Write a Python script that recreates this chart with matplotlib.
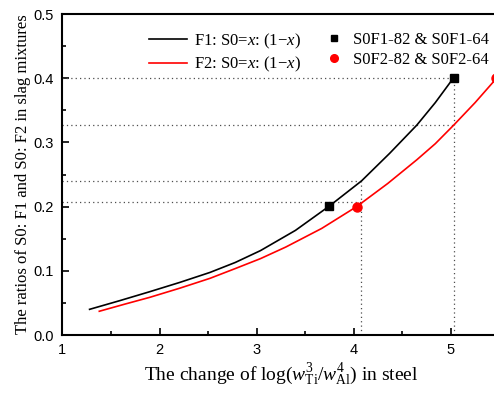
import matplotlib
matplotlib.use('Agg')
import matplotlib.pyplot as plt
from matplotlib.lines import Line2D

plt.rcParams['mathtext.fontset'] = 'custom'
plt.rcParams['mathtext.rm'] = 'Liberation Serif'
plt.rcParams['mathtext.it'] = 'Liberation Serif:italic'

# curve F1 (black)
f1_x = [1.28, 1.59, 1.90, 2.21, 2.52, 2.78, 3.04, 3.40, 3.75, 4.08, 4.37, 4.65, 4.84, 5.03]
f1_y = [0.040, 0.0535, 0.0675, 0.082, 0.0975, 0.113, 0.1315, 0.163, 0.201, 0.240, 0.283, 0.327, 0.362, 0.401]

# curve F2 (red)
f2_x = [1.38, 1.64, 1.90, 2.21, 2.52, 2.78, 3.04, 3.30, 3.67, 4.03, 4.35, 4.65, 4.84, 5.03, 5.25, 5.50]
f2_y = [0.037, 0.048, 0.0587, 0.073, 0.0883, 0.1035, 0.119, 0.137, 0.166, 0.200, 0.236, 0.273, 0.298, 0.327, 0.362, 0.405]

# experimental points
s0f1_x = [3.75, 5.03]
s0f1_y = [0.201, 0.401]
s0f2_x = [4.03, 5.47]
s0f2_y = [0.200, 0.400]

# dotted guide lines
h_guides = [(0.401, 5.03), (0.327, 5.03), (0.240, 4.08), (0.2077, 4.08)]
v_guides = [(4.08, 0.240), (5.03, 0.401)]

fig = plt.figure(figsize=(4.94, 3.94), dpi=100)
ax = fig.add_axes([0.1263, 0.1497, 0.8846, 0.8147])

for yv, xe in h_guides:
    ax.plot([1, xe], [yv, yv], linestyle=(0, (1, 2.5)), color='0.3', linewidth=0.9)
for xv, ye in v_guides:
    ax.plot([xv, xv], [0, ye], linestyle=(0, (1, 2.5)), color='0.3', linewidth=0.9)

ax.plot(f1_x, f1_y, color='black', linewidth=1.2)
ax.plot(f2_x, f2_y, color='red', linewidth=1.2)
ax.plot(s0f1_x, s0f1_y, linestyle='None', marker='s', markersize=6, color='black', clip_on=False)
ax.plot(s0f2_x, s0f2_y, linestyle='None', marker='o', markersize=6.5, color='red', clip_on=False)

ax.set_xlim(1, 5.5)
ax.set_ylim(0, 0.5)
ax.set_xticks([1, 2, 3, 4, 5])
ax.set_xticks([1.5, 2.5, 3.5, 4.5], minor=True)
ax.set_yticks([0.0, 0.1, 0.2, 0.3, 0.4, 0.5])
ax.set_yticklabels(['0.0', '0.1', '0.2', '0.3', '0.4', '0.5'])
ax.set_yticks([0.05, 0.15, 0.25, 0.35, 0.45], minor=True)
ax.tick_params(which='both', direction='in', top=False, right=False,
               labelsize=10.5, width=1.2)
ax.tick_params(which='major', length=5, pad=6)
ax.tick_params(which='minor', length=3)
for lab in ax.get_xticklabels() + ax.get_yticklabels():
    lab.set_family('Liberation Sans')
for sp in ax.spines.values():
    sp.set_linewidth(1.5)

ax.set_xlabel(r'The change of log($w_{\rm Ti}^{3}/w_{\rm Al}^{4}$) in steel',
              family='Liberation Serif', fontsize=14, labelpad=3)
ax.set_ylabel('The ratios of S0: F1 and S0: F2 in slag mixtures',
              family='Liberation Serif', fontsize=12, labelpad=2)

h1 = [Line2D([], [], color='black', linewidth=1.2),
      Line2D([], [], color='red', linewidth=1.2)]
leg1 = ax.legend(h1, ['F1: S0=$x$: (1\u2212$x$)', 'F2: S0=$x$: (1\u2212$x$)'],
                 loc='upper left', bbox_to_anchor=(0.198, 0.945), frameon=False,
                 prop={'family': 'Liberation Serif', 'size': 12},
                 handlelength=2.3, handletextpad=0.4, labelspacing=0.25,
                 borderpad=0, borderaxespad=0)
ax.add_artist(leg1)
h2 = [Line2D([], [], linestyle='None', marker='s', markersize=5, color='black'),
      Line2D([], [], linestyle='None', marker='o', markersize=5.5, color='red')]
ax.legend(h2, ['S0F1-82 & S0F1-64', 'S0F2-82 & S0F2-64'],
          loc='upper left', bbox_to_anchor=(0.603, 0.945), frameon=False,
          prop={'family': 'Liberation Serif', 'size': 12},
          handlelength=1.0, handletextpad=0.6, labelspacing=0.25,
          borderpad=0, borderaxespad=0)

fig.savefig('out.png', dpi=100)
